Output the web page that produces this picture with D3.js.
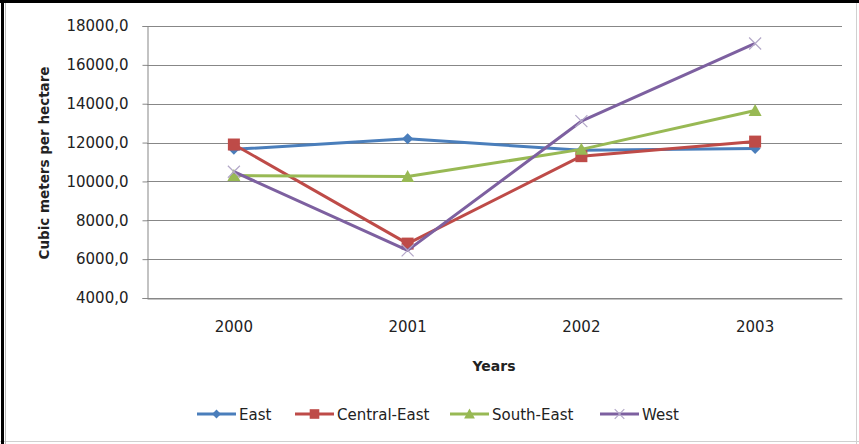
<!DOCTYPE html>
<html><head><meta charset="utf-8">
<script src="https://cdn.jsdelivr.net/npm/d3@7"></script>
<style>
html,body{margin:0;padding:0;background:#fff;width:859px;height:444px;overflow:hidden;}
svg{display:block;position:absolute;left:0;top:0;}
text{font-family:"DejaVu Sans",sans-serif;fill:#222;}
</style></head>
<body>
<svg id="c" width="859" height="444" viewBox="0 0 859 444"></svg>
<script>
const years = ["2000","2001","2002","2003"];
const east = [11650, 12200, 11600, 11700];
const centralEast = [11900, 6800, 11300, 12050];
const southEast = [10300, 10250, 11650, 13650];
const west = [10500, 6450, 13100, 17100];
const yTicks = [4000, 6000, 8000, 10000, 12000, 14000, 16000, 18000];
const seriesNames = ["East","Central-East","South-East","West"];
const seriesColors = ["#4A7EBB","#BE4B48","#98B954","#7D60A0"];
const seriesMarkers = ["diamond","square","triangle","x"];
const series = [east, centralEast, southEast, west].map((v,i)=>({name:seriesNames[i], values:v, color:seriesColors[i], marker:seriesMarkers[i]}));

const svg = d3.select("#c");
// outer frame
svg.append("rect").attr("x",0).attr("y",0).attr("width",859).attr("height",444).attr("fill","#fff");
svg.append("line").attr("x1",856.5).attr("x2",856.5).attr("y1",0).attr("y2",444).attr("stroke","#d0d0d0");
svg.append("line").attr("x1",0).attr("x2",859).attr("y1",441.5).attr("y2",441.5).attr("stroke","#d0d0d0");
svg.append("line").attr("x1",0).attr("x2",859).attr("y1",1.5).attr("y2",1.5).attr("stroke","#000").attr("stroke-width",3);
svg.append("line").attr("x1",2.5).attr("x2",2.5).attr("y1",0).attr("y2",444).attr("stroke","#000").attr("stroke-width",3);
svg.append("line").attr("x1",5.5).attr("x2",5.5).attr("y1",3).attr("y2",444).attr("stroke","#bbb").attr("stroke-width",1);

const L = 147, R = 842, T = 26, B = 298;
const x = d3.scaleBand().domain(years).range([L, R]);
const y = d3.scaleLinear().domain([4000, 18000]).range([B, T]);

// gridlines
svg.append("g").selectAll("line").data(yTicks).join("line")
  .attr("x1", L).attr("x2", R)
  .attr("y1", d=>Math.round(y(d))+0.5).attr("y2", d=>Math.round(y(d))+0.5)
  .attr("stroke", "#878787").attr("stroke-width", 1);

// y axis
const yAxis = d3.axisLeft(y).tickValues(yTicks).tickSize(5).tickPadding(14)
  .tickFormat(d => d3.format(".1f")(d).replace(".", ","));
const gy = svg.append("g").attr("transform", `translate(${L+0.5},0)`).call(yAxis);
gy.select(".domain").attr("stroke","#878787");
gy.selectAll(".tick line").attr("stroke","#878787");
gy.selectAll(".tick text").attr("font-size","15px").attr("fill","#222").attr("font-family","DejaVu Sans");

// x axis
const xAxis = d3.axisBottom(x).tickSize(0).tickPadding(23);
const gx = svg.append("g").attr("transform", `translate(0,${B+0.5})`).call(xAxis);
gx.select(".domain").attr("stroke","#878787");
gx.selectAll(".tick text").attr("font-size","15px").attr("fill","#222").attr("font-family","DejaVu Sans");

// axis titles
svg.append("text").attr("transform","translate(49,163) rotate(-90)")
  .attr("text-anchor","middle").attr("font-size","13.5px").attr("font-weight","bold")
  .text("Cubic meters per hectare");
svg.append("text").attr("x",494).attr("y",371).attr("text-anchor","middle")
  .attr("font-size","14px").attr("font-weight","bold").text("Years");

const cx = d => x(d) + x.bandwidth()/2;
const line = d3.line().x((d,i)=>cx(years[i])).y(d=>y(d));

function drawMarker(g, type, color, px, py, s) {
  if (type === "diamond") {
    g.append("path").attr("d", `M${px},${py-s}L${px+s},${py}L${px},${py+s}L${px-s},${py}Z`).attr("fill", color);
  } else if (type === "square") {
    g.append("rect").attr("x", px-s).attr("y", py-s).attr("width", 2*s).attr("height", 2*s).attr("fill", color);
  } else if (type === "triangle") {
    g.append("path").attr("d", `M${px},${py-s-1}L${px+s+1},${py+s}L${px-s-1},${py+s}Z`).attr("fill", color);
  } else {
    g.append("path").attr("d", `M${px-s},${py-s}L${px+s},${py+s}M${px-s},${py+s}L${px+s},${py-s}`).attr("stroke", color).attr("stroke-width", 1.2).attr("fill","none");
  }
}

const sizes = {diamond:5.5, square:6, triangle:5.5, x:6};
series.forEach(s => {
  const g = svg.append("g");
  g.append("path").datum(s.values).attr("d", line).attr("fill","none")
    .attr("stroke", s.color).attr("stroke-width", 3).attr("stroke-linejoin","round");
  s.values.forEach((v,i) => drawMarker(g, s.marker, s.marker==="x" ? "#b3a8c8" : s.color, cx(years[i]), y(v), sizes[s.marker]));
});

// legend
const legendX = [197, 295, 450, 600];
const ly = 414;
series.forEach((s,i) => {
  const g = svg.append("g");
  const x0 = legendX[i];
  g.append("line").attr("x1", x0).attr("x2", x0+39).attr("y1", ly).attr("y2", ly)
    .attr("stroke", s.color).attr("stroke-width", 3);
  drawMarker(g, s.marker, s.marker==="x" ? "#b3a8c8" : s.color, x0+19.5, ly, sizes[s.marker]*0.8);
  g.append("text").attr("x", x0+42).attr("y", ly+5.5).attr("font-size","15px").text(s.name);
});
</script>
</body></html>
